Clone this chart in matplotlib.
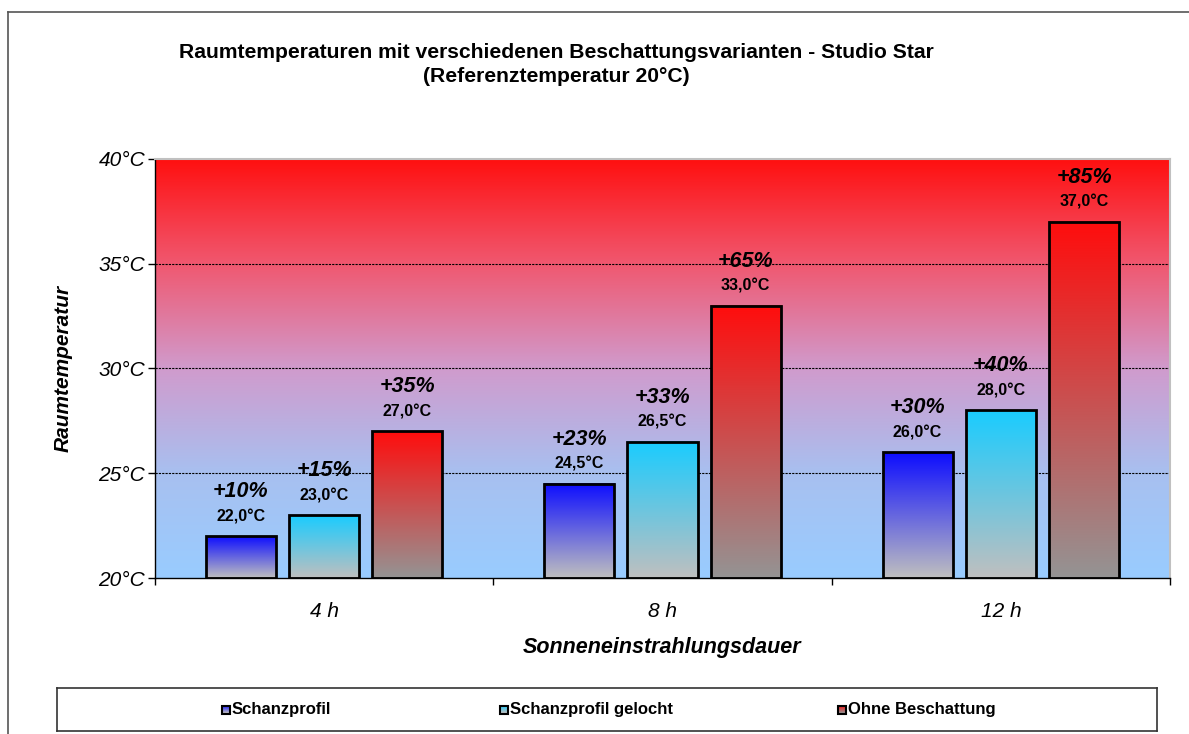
import matplotlib
matplotlib.use('Agg')
import matplotlib.pyplot as plt
import numpy as np
from matplotlib.colors import LinearSegmentedColormap
from matplotlib.patches import Rectangle
from matplotlib.lines import Line2D

plt.rcParams['font.family'] = ['Liberation Sans', 'DejaVu Sans']

# data
categories = ['4 h', '8 h', '12 h']
series = ['Schanzprofil', 'Schanzprofil gelocht', 'Ohne Beschattung']
schanz = [22.0, 24.5, 26.0]
schanz_gelocht = [23.0, 26.5, 28.0]
ohne = [27.0, 33.0, 37.0]
pct_schanz = ['+10%', '+23%', '+30%']
pct_gelocht = ['+15%', '+33%', '+40%']
pct_ohne = ['+35%', '+65%', '+85%']
yticks = [20, 25, 30, 35, 40]

values = [schanz, schanz_gelocht, ohne]
percents = [pct_schanz, pct_gelocht, pct_ohne]
# (bottom colour, top colour) of every bar gradient
bar_cols = [((0.75, 0.75, 0.75), (0.05, 0.05, 1.0)),
            ((0.75, 0.75, 0.75), (0.1, 0.8, 1.0)),
            ((0.58, 0.58, 0.58), (1.0, 0.05, 0.05))]

W, H = 1189, 734
fig = plt.figure(figsize=(W / 100, H / 100), dpi=100)

# outer chart frame (left + top edge only visible)
fig.add_artist(Line2D([8 / W, 8 / W], [0, 1 - 12 / H], color='#555555', lw=1.2))
fig.add_artist(Line2D([8 / W, 1], [1 - 12 / H, 1 - 12 / H], color='#555555', lw=1.2))

ax = fig.add_axes([155 / W, 1 - 578 / H, 1015 / W, 419 / H])
ax.set_xlim(-0.5, 2.5)
ax.set_ylim(20, 40)

# plot area background gradient
bg = LinearSegmentedColormap.from_list('bg', [
    (0.0, (153/255, 204/255, 255/255)),
    (0.25, (168/255, 192/255, 240/255)),
    (0.5, (208/255, 155/255, 205/255)),
    (0.75, (240/255, 88/255, 112/255)),
    (1.0, (255/255, 16/255, 16/255))])
grad = np.linspace(0, 1, 256).reshape(-1, 1)
ax.imshow(grad, cmap=bg, origin='lower', extent=[-0.5, 2.5, 20, 40],
          aspect='auto', zorder=0)

for y in yticks[1:-1]:
    ax.axhline(y, color='black', lw=0.8, ls=(0, (2, 1)), zorder=1)

width = 0.207
offsets = [-0.246, 0, 0.246]
for s in range(3):
    cmap = LinearSegmentedColormap.from_list('b%d' % s, list(bar_cols[s]))
    for i in range(3):
        v = values[s][i]
        x0 = i + offsets[s] - width / 2
        ax.imshow(grad, cmap=cmap, origin='lower', extent=[x0, x0 + width, 20, v],
                  aspect='auto', zorder=2)
        ax.add_patch(Rectangle((x0, 20), width, v - 20, fill=False,
                               edgecolor='black', lw=2, zorder=3))
        xc = i + offsets[s]
        lbl = ('%.1f' % v).replace('.', ',') + '°C'
        ax.annotate(lbl, (xc, v), xytext=(0, 14), textcoords='offset points',
                    ha='center', va='center', fontsize=11.5, fontweight='bold')
        ax.annotate(percents[s][i], (xc, v), xytext=(0, 32), textcoords='offset points',
                    ha='center', va='center', fontsize=15.5, fontweight='bold',
                    fontstyle='italic')

ax.set_xlim(-0.5, 2.5)
ax.set_ylim(20, 40)
ax.set_yticks(yticks)
ax.set_yticklabels(['%d°C' % t for t in yticks], fontsize=15, fontstyle='italic')
ax.set_xticks([0, 1, 2])
ax.set_xticklabels(categories, fontsize=15, fontstyle='italic')
ax.set_xticks([-0.5, 0.5, 1.5, 2.5], minor=True)
ax.tick_params(axis='x', which='major', length=0, pad=17)
ax.tick_params(axis='x', which='minor', length=5, width=1, direction='out')
ax.tick_params(axis='y', length=5, width=1, direction='out', pad=2)
for side in ['top', 'right']:
    ax.spines[side].set_color('#c0c0c0')
    ax.spines[side].set_linewidth(1.5)
for side in ['left', 'bottom']:
    ax.spines[side].set_color('black')
    ax.spines[side].set_linewidth(1)

ax.set_ylabel('Raumtemperatur', fontsize=15, fontweight='bold', fontstyle='italic', labelpad=19)
ax.set_xlabel('Sonneneinstrahlungsdauer', fontsize=15.5, fontweight='bold',
              fontstyle='italic', labelpad=12)

fig.text(556 / W, 1 - 53 / H, 'Raumtemperaturen mit verschiedenen Beschattungsvarianten - Studio Star',
         ha='center', va='center', fontsize=15.2, fontweight='bold')
fig.text(556 / W, 1 - 77 / H, '(Referenztemperatur 20°C)',
         ha='center', va='center', fontsize=15.2, fontweight='bold')

# legend box
lax = fig.add_axes([57 / W, 1 - 731 / H, 1100 / W, 43 / H])
lax.set_xlim(0, 1100)
lax.set_ylim(0, 43)
lax.set_xticks([])
lax.set_yticks([])
for sp in lax.spines.values():
    sp.set_color('#333333')
    sp.set_linewidth(1.2)
leg_x = [165, 443, 781]
for s in range(3):
    cmap = LinearSegmentedColormap.from_list('l%d' % s, list(bar_cols[s]))
    x0 = leg_x[s]
    lax.imshow(grad, cmap=cmap, origin='lower', extent=[x0, x0 + 8, 17.5, 25.5],
               aspect='auto', zorder=2)
    lax.add_patch(Rectangle((x0, 17.5), 8, 8, fill=False, edgecolor='black', lw=1.5, zorder=3))
    lax.text(x0 + 10, 21.5, series[s], ha='left', va='center', fontsize=12,
             fontweight='bold')
lax.set_xlim(0, 1100)
lax.set_ylim(0, 43)

fig.savefig('out.png', dpi=100)
